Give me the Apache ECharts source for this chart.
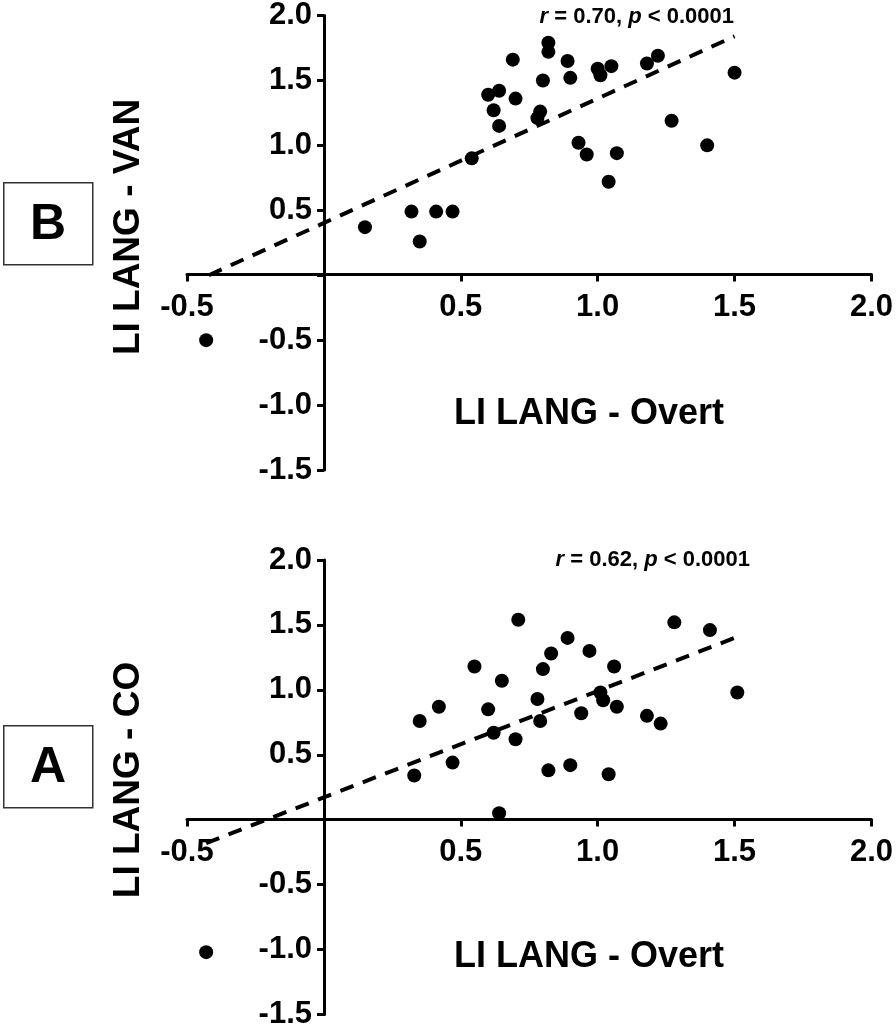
<!DOCTYPE html>
<html>
<head>
<meta charset="utf-8">
<script src="https://cdn.jsdelivr.net/npm/echarts@6/dist/echarts.min.js"></script>
<style>
html,body{margin:0;padding:0;background:#fff;}
#chart{width:896px;height:1030px;}
</style>
</head>
<body>
<div id="chart"></div>
<script>
// ---- data (panel B: VAN vs Overt) ----
const vanOvert = [0.15, 0.32, 0.35, 0.41, 0.47, 0.54, 0.60, 0.62, 0.64, 0.64, 0.69, 0.70, 0.82, 0.82, 0.80, 0.79, 0.78, 0.89, 0.90, 1.00, 1.01, 1.05, 1.18, 1.22, 1.50, 0.93, 0.96, 1.07, 1.04, 1.27, 1.40, -0.43];
const vanValues = [0.37, 0.49, 0.26, 0.49, 0.49, 0.90, 1.39, 1.27, 1.15, 1.42, 1.66, 1.36, 1.79, 1.72, 1.50, 1.26, 1.21, 1.65, 1.52, 1.59, 1.54, 1.61, 1.63, 1.69, 1.56, 1.02, 0.93, 0.94, 0.72, 1.19, 1.00, -0.50];
const vanFitX = [-0.42, 1.50];
const vanFitY = [0.00, 1.84];
// ---- data (panel A: CO vs Overt) ----
const coOvert = [0.33, 0.35, 0.42, 0.47, 0.55, 0.60, 0.62, 0.64, 0.65, 0.70, 0.71, 0.78, 0.79, 0.80, 0.83, 0.82, 0.89, 0.90, 0.94, 0.97, 1.01, 1.02, 1.06, 1.04, 1.07, 1.18, 1.23, 1.28, 1.41, 1.51, -0.43];
const coValues = [0.34, 0.76, 0.87, 0.44, 1.18, 0.85, 0.67, 0.05, 1.07, 0.62, 1.54, 0.93, 0.76, 1.16, 1.28, 0.38, 1.40, 0.42, 0.82, 1.30, 0.98, 0.92, 1.18, 0.35, 0.87, 0.80, 0.74, 1.52, 1.46, 0.98, -1.02];
const coFitX = [-0.43, 1.50];
const coFitY = [-0.18, 1.40];
// ---- axes / labels ----
const xMin = -0.5, xMax = 2.0, yMin = -1.5, yMax = 2.0, step = 0.5;
const xTitle = 'LI LANG - Overt';
const yTitles = ['LI LANG - VAN', 'LI LANG - CO'];
const panelLabels = ['B', 'A'];
const stats = [{r: '0.70', p: '0.0001'}, {r: '0.62', p: '0.0001'}];

const FONT = '"Liberation Sans", Arial, sans-serif';
const INK = '#000';

function zip(xs, ys) { return xs.map((x, i) => [x, ys[i]]); }
function fmt(v) { return Math.abs(v) < 1e-9 ? '' : v.toFixed(1); }

const grids = [
  {left: 187, top: 14, width: 685, height: 456},
  {left: 187, top: 560, width: 685, height: 455}
];

const axisLine = {onZero: false, lineStyle: {color: INK, width: 3}};
const axisTick = {show: true, length: 7, lineStyle: {color: INK, width: 3}};

function xAxis(gi) {
  const g = grids[gi];
  // shift the axis from the grid bottom up to y = 0
  const zeroFromBottom = g.height * (0 - yMin) / (yMax - yMin);
  return {
    type: 'value', gridIndex: gi, min: xMin, max: xMax, interval: step,
    position: 'bottom', offset: -zeroFromBottom,
    axisLine: axisLine, axisTick: axisTick, splitLine: {show: false},
    axisLabel: {formatter: fmt, fontFamily: FONT, fontWeight: 'bold', fontSize: 31, color: INK, margin: 17}
  };
}
function yAxis(gi) {
  const g = grids[gi];
  const zeroFromLeft = g.width * (0 - xMin) / (xMax - xMin);
  return {
    type: 'value', gridIndex: gi, min: yMin, max: yMax, interval: step,
    position: 'left', offset: -zeroFromLeft,
    axisLine: axisLine, axisTick: axisTick, splitLine: {show: false},
    axisLabel: {formatter: fmt, fontFamily: FONT, fontWeight: 'bold', fontSize: 31, color: INK, margin: 12}
  };
}

const chart = echarts.init(document.getElementById('chart'), null, {renderer: 'canvas'});

const graphics = [];
[0, 1].forEach((i) => {
  const boxTop = i === 0 ? 182 : 725;
  graphics.push({
    type: 'rect', left: 3, top: boxTop,
    shape: {width: 89, height: 82},
    style: {fill: '#fff', stroke: '#333', lineWidth: 1.5}
  });
  graphics.push({
    type: 'text', x: 48, y: boxTop + 43,
    style: {text: panelLabels[i], font: 'bold 50px ' + FONT, fill: INK, textAlign: 'center', textVerticalAlign: 'middle'}
  });
  graphics.push({
    type: 'text', x: 129, y: i === 0 ? 227 : 780, rotation: Math.PI / 2,
    style: {text: yTitles[i], font: 'bold 37px ' + FONT, fill: INK, textAlign: 'center', textVerticalAlign: 'middle'}
  });
  graphics.push({
    type: 'text', x: 589, y: i === 0 ? 414 : 957,
    style: {text: xTitle, font: 'bold 36px ' + FONT, fill: INK, textAlign: 'center', textVerticalAlign: 'middle'}
  });
  graphics.push({
    type: 'text', x: i === 0 ? 734 : 750, y: i === 0 ? 17 : 560,
    style: {
      text: '{i|r} = ' + stats[i].r + ', {i|p} < ' + stats[i].p,
      font: 'bold 22px ' + FONT, fill: INK, textAlign: 'right', textVerticalAlign: 'middle',
      rich: {i: {fontStyle: 'italic', fontWeight: 'bold', fontSize: 22, fontFamily: FONT, fill: INK}}
    }
  });
});

const option = {
  backgroundColor: '#fff',
  animation: false,
  grid: grids,
  xAxis: [xAxis(0), xAxis(1)],
  yAxis: [yAxis(0), yAxis(1)],
  series: [
    {type: 'line', xAxisIndex: 0, yAxisIndex: 0, data: zip(vanFitX, vanFitY), symbol: 'none',
     lineStyle: {color: INK, width: 4, type: [14, 10]}, z: 2},
    {type: 'scatter', xAxisIndex: 0, yAxisIndex: 0, data: zip(vanOvert, vanValues), symbolSize: 14,
     itemStyle: {color: INK, opacity: 1}, z: 3},
    {type: 'line', xAxisIndex: 1, yAxisIndex: 1, data: zip(coFitX, coFitY), symbol: 'none',
     lineStyle: {color: INK, width: 4, type: [14, 10]}, z: 2},
    {type: 'scatter', xAxisIndex: 1, yAxisIndex: 1, data: zip(coOvert, coValues), symbolSize: 14,
     itemStyle: {color: INK, opacity: 1}, z: 3}
  ],
  graphic: graphics
};
chart.setOption(option);
</script>
</body>
</html>
